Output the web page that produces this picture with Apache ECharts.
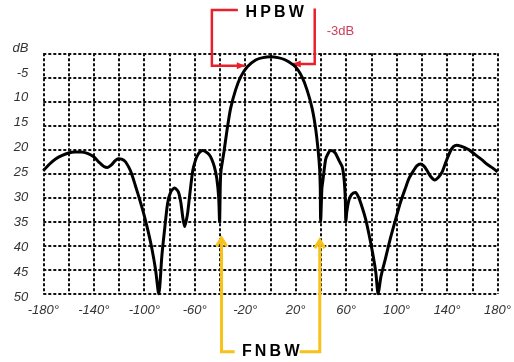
<!DOCTYPE html>
<html>
<head>
<meta charset="utf-8">
<script src="https://cdn.jsdelivr.net/npm/echarts@6/dist/echarts.min.js"></script>
<style>
  html, body { margin: 0; padding: 0; background: #fff; }
  #chart { width: 514px; height: 362px; }
</style>
</head>
<body>
<div id="chart"></div>
<script>
// radiation pattern, angle (deg) vs attenuation (dB below peak)
const angles = [
  -180, -175, -170, -165, -160, -155, -150, -145, -140, -136, -132, -129, -126, -123, -120.5, -118, -115, -112,
  -110, -107, -103.5, -100, -97, -94, -91, -88.5, -86, -84, -81.5, -79, -76, -73, -71, -69.4, -68, -66.5,
  -65.5, -63.6, -61.5, -59.5, -57.6, -55.5, -53.6, -51, -48.4, -46.5, -44.4, -42.5, -41, -40.3, -39.7, -39.2,
  -38, -36.8, -34.2, -31.5, -27.6, -23.6, -18.3, -11.7, -6, 0, 6, 11.9, 19.8, 25,
  29, 33, 35.8, 37.9, 39, 39.5, 39.8, 40.8, 41.6, 43.7, 45.5, 47.7, 49.5, 51.6,
  54.4, 56.9, 58.3, 59.3, 59.8, 60.5, 62.2, 64.5, 67.5, 70, 72.8, 75.5, 78.1, 81, 83.5, 85.4,
  87.5, 91.2, 95, 99.1, 103, 107, 110, 113.6, 116, 118.9, 121.5, 124, 127, 130.2, 133, 136,
  139, 142.5, 145, 147.8, 151, 154, 157, 162, 167.5, 172, 176, 180
];
const levels = [
  24.4, 23.0, 21.9, 21.2, 20.7, 20.5, 20.5, 20.8, 21.5, 22.6, 23.5, 23.7, 23.2, 22.3, 21.9, 22.0, 22.5, 23.8,
  25, 27.5, 30.5, 33.7, 36.9, 40.5, 45, 50, 42, 36.9, 31.2, 28.8, 28, 28.8, 31, 34.2, 36, 34.5,
  33, 28.6, 24.3, 22.3, 21.1, 20.4, 20.2, 20.5, 21.1, 22, 23.6, 26, 30, 35, 27, 24.5,
  22.4, 20.4, 15.6, 11.4, 7.6, 4.9, 2.8, 1.4, 0.9, 0.7, 0.9, 1.4, 2.8, 4.9,
  7.6, 11.4, 15.6, 20.4, 24, 28, 35, 28, 26.4, 22.1, 20.9, 20.2, 20.3, 20.8,
  22.3, 23.6, 26, 30, 35, 33, 30.5, 29.3, 28.9, 30, 32.1, 34.5, 37.6, 41.5, 45.5, 50,
  46.5, 42.6, 38.5, 34.6, 31, 28, 25.9, 24.3, 23.4, 23, 23.4, 24.3, 25.6, 26.3, 25.8, 24.7,
  22.6, 20.4, 19.4, 19.1, 19.3, 19.6, 20, 21, 22.1, 23.1, 23.8, 24.6
];

const xLabels = ['-180°', '-140°', '-100°', '-60°', '-20°', '20°', '60°', '100°', '140°', '180°'];
const yLabels = ['dB', '-5', '10', '15', '20', '25', '30', '35', '40', '45', '50'];

// annotation anchors in (angle, dB)
const hpbwLeft = [[-25.8, -9], [-46.4, -9], [-46.4, 2.6], [-20.3, 2.6]];
const hpbwRight = [[35.1, -9.3], [35.1, 2.2], [17.7, 2.2]];
const fnbwLeft = [[-28.3, 62], [-38.75, 62], [-38.75, 38.4]];
const fnbwRight = [[23.2, 62], [39.1, 62], [39.1, 38.8]];
const hpbwText = [3.4, -8.4];
const minus3Text = [44.6, -4.6];
const fnbwText = [0.2, 62];

const labelFont = { fontFamily: 'Liberation Sans', fontStyle: 'italic', fontSize: 13, color: '#333' };
const gridLine = { show: true, lineStyle: { color: '#111', width: 2, type: [3, 2] } };

const chart = echarts.init(document.getElementById('chart'));

chart.setOption({
  animation: false,
  grid: [
    { left: 43.3, top: 53.3, width: 454.7, height: 240.7 },
    { left: 43.3, top: 48, width: 454.7, height: 249 }
  ],
  xAxis: [
    {
      type: 'value', gridIndex: 0, min: -180, max: 180, interval: 20,
      axisLine: { show: false }, axisTick: { show: false },
      splitLine: gridLine,
      axisLabel: Object.assign({
        margin: 10,
        formatter: v => {
          const s = v + '°';
          return xLabels.includes(s) ? s : '';
        }
      }, labelFont)
    },
    { type: 'value', gridIndex: 1, min: -180, max: 180, show: false }
  ],
  yAxis: [
    {
      type: 'value', gridIndex: 0, min: 0, max: 50, interval: 5, inverse: true,
      axisLine: { show: false }, axisTick: { show: false },
      splitLine: gridLine,
      axisLabel: { show: false }
    },
    {
      type: 'value', gridIndex: 1, min: 0, max: 50, interval: 5, inverse: true,
      axisLine: { show: false }, axisTick: { show: false }, splitLine: { show: false },
      axisLabel: Object.assign({
        margin: 15,
        formatter: v => yLabels[Math.round(v / 5)]
      }, labelFont)
    }
  ],
  series: [{
    type: 'line',
    xAxisIndex: 0, yAxisIndex: 0,
    data: angles.map((a, i) => [a, levels[i]]),
    showSymbol: false,
    smooth: 0.25,
    lineStyle: { color: '#000', width: 3 }
  }]
});

// annotations, placed through the grid's own scales
const px = p => chart.convertToPixel({ gridIndex: 0 }, p);
const poly = (pts, color, w) => ({
  type: 'polyline', silent: true,
  shape: { points: pts.map(px) },
  style: { stroke: color, lineWidth: w, fill: null }
});
const red = '#e8202a';
const yellow = '#f7c21a';

const lTip = px(hpbwLeft[hpbwLeft.length - 1]);
const rTip = px(hpbwRight[hpbwRight.length - 1]);
const ylTip = px(fnbwLeft[fnbwLeft.length - 1]);
const yrTip = px(fnbwRight[fnbwRight.length - 1]);
const chevron = (t) => ({
  type: 'polyline', silent: true,
  shape: { points: [[t[0] - 5, t[1] + 8], t, [t[0] + 5, t[1] + 8]] },
  style: { stroke: yellow, lineWidth: 3, fill: null }
});
const hp = px(hpbwText), m3 = px(minus3Text), fn = px(fnbwText);

chart.setOption({
  graphic: [
    poly(hpbwLeft, red, 2.5),
    poly(hpbwRight, red, 2.5),
    { type: 'polygon', silent: true, shape: { points: [[lTip[0], lTip[1]], [lTip[0] - 8, lTip[1] - 3.5], [lTip[0] - 8, lTip[1] + 3.5]] }, style: { fill: red } },
    { type: 'polygon', silent: true, shape: { points: [[rTip[0], rTip[1]], [rTip[0] + 8, rTip[1] - 3.5], [rTip[0] + 8, rTip[1] + 3.5]] }, style: { fill: red } },
    poly(fnbwLeft, yellow, 3),
    poly(fnbwRight, yellow, 3),
    chevron(ylTip),
    chevron(yrTip),
    { type: 'text', silent: true, x: hp[0], y: hp[1], style: { text: 'H\u2009P\u2009B\u2009W', fill: '#000', font: 'bold 16px "Liberation Sans"', align: 'center', verticalAlign: 'middle' } },
    { type: 'text', silent: true, x: m3[0], y: m3[1], style: { text: '-3dB', fill: '#cc3d5a', font: '13px "Liberation Sans"', align: 'left', verticalAlign: 'middle' } },
    { type: 'text', silent: true, x: fn[0], y: fn[1], style: { text: 'F\u2009N\u2009B\u2009W', fill: '#000', font: 'bold 16px "Liberation Sans"', align: 'center', verticalAlign: 'middle' } }
  ]
});
</script>
</body>
</html>
